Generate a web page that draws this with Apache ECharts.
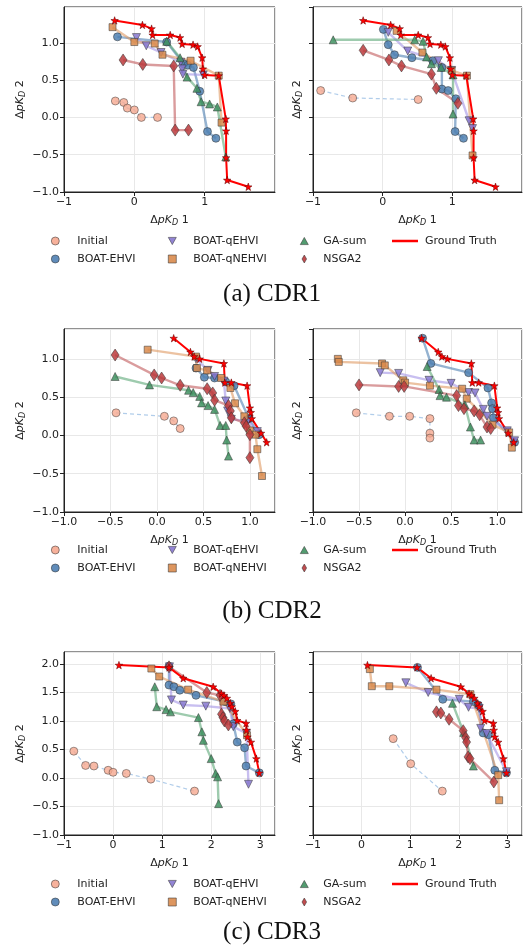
<!DOCTYPE html>
<html>
<head>
<meta charset="utf-8">
<script src="https://cdn.jsdelivr.net/npm/echarts@6/dist/echarts.min.js"></script>
<style>
html, body { margin: 0; padding: 0; background: #fff; }
#chart { width: 524px; height: 946px; }
</style>
</head>
<body>
<div id="chart"></div>
<script>
// methods, in legend / drawing order
const methods = ['Initial', 'BOAT-EHVI', 'BOAT-qEHVI', 'BOAT-qNEHVI', 'GA-sum', 'NSGA2']

// ---- CDR1 ----
const cdr1Truth = [[-0.28,1.30],[0.115,1.24],[0.245,1.19],[0.26,1.105],[0.51,1.105],[0.65,1.07],[0.68,0.985],[0.835,0.975],[0.90,0.95],[0.965,0.80],[0.975,0.65],[1.0,0.57],[1.20,0.56],[1.30,-0.02],[1.305,-0.18],[1.305,-0.54],[1.32,-0.84],[1.62,-0.93]]
const cdr1Left = {
  'Initial': [[-0.27,0.22],[-0.15,0.20],[-0.10,0.125],[0.0,0.10],[0.10,0.0],[0.33,0.0]],
  'BOAT-EHVI': [[-0.24,1.08],[0.46,1.01],[0.70,0.72],[0.76,0.70],[0.84,0.67],[0.93,0.35],[1.04,-0.19],[1.16,-0.28]],
  'BOAT-qEHVI': [[0.03,1.07],[0.17,0.96],[0.38,0.87],[0.66,0.74],[0.68,0.65],[0.69,0.58],[0.98,0.57]],
  'BOAT-qNEHVI': [[-0.31,1.21],[0.0,1.01],[0.29,0.99],[0.40,0.84],[0.80,0.76],[1.20,0.56],[1.24,-0.07]],
  'GA-sum': [[0.46,1.02],[0.65,0.80],[0.75,0.54],[0.89,0.39],[0.95,0.21],[1.07,0.18],[1.18,0.14],[1.30,-0.53]],
  'NSGA2': [[-0.16,0.77],[0.12,0.71],[0.56,0.69],[0.58,-0.17],[0.77,-0.17]]
}
const cdr1Right = {
  'Initial': [[-0.89,0.36],[-0.43,0.26],[0.51,0.24]],
  'BOAT-EHVI': [[0.01,1.18],[0.08,0.975],[0.17,0.84],[0.42,0.80],[0.72,0.76],[0.85,0.67],[0.85,0.38],[0.94,0.36],[1.05,0.25],[1.04,-0.19],[1.16,-0.28]],
  'BOAT-qEHVI': [[0.08,1.14],[0.36,0.89],[0.80,0.76],[0.99,0.63],[1.24,-0.045],[1.29,-0.15]],
  'BOAT-qNEHVI': [[0.2,1.16],[0.57,0.87],[0.99,0.63],[1.21,0.56],[1.29,-0.51]],
  'GA-sum': [[-0.71,1.04],[0.46,1.04],[0.58,1.02],[0.63,0.81],[0.70,0.72],[0.84,0.67],[1.01,0.57],[1.01,0.045]],
  'NSGA2': [[-0.28,0.90],[0.09,0.77],[0.27,0.69],[0.70,0.58],[0.77,0.39],[1.08,0.19]]
}

// ---- CDR2 ----
const cdr2Truth = [[0.18,1.27],[0.36,1.09],[0.40,1.03],[0.46,1.0],[0.72,0.94],[0.73,0.69],[0.80,0.69],[0.97,0.65],[1.0,0.36],[1.01,0.30],[1.02,0.22],[1.12,0.03],[1.18,-0.09]]
const cdr2Left = {
  'Initial': [[-0.44,0.295],[0.08,0.25],[0.18,0.19],[0.25,0.09]],
  'BOAT-EHVI': [[0.42,0.88],[0.51,0.76],[0.62,0.75],[0.74,0.70],[0.83,0.65],[0.99,0.22],[1.10,0.01]],
  'BOAT-qEHVI': [[0.42,1.0],[0.55,0.85],[0.62,0.77],[0.72,0.71],[0.74,0.45],[0.76,0.32],[0.80,0.21],[0.98,0.19],[1.08,0.05]],
  'BOAT-qNEHVI': [[-0.10,1.12],[0.42,1.03],[0.43,0.88],[0.54,0.85],[0.69,0.75],[0.79,0.62],[0.84,0.42],[0.94,0.25],[1.0,0.065],[1.06,0.01],[1.08,-0.18],[1.13,-0.53]],
  'GA-sum': [[-0.45,0.77],[-0.08,0.66],[0.34,0.59],[0.39,0.56],[0.46,0.51],[0.48,0.425],[0.55,0.39],[0.62,0.34],[0.68,0.13],[0.74,0.13],[0.75,-0.06],[0.77,-0.27]],
  'NSGA2': [[-0.45,1.05],[-0.03,0.79],[0.05,0.75],[0.25,0.655],[0.54,0.61],[0.60,0.555],[0.62,0.46],[0.77,0.39],[0.79,0.32],[0.80,0.23],[0.94,0.165],[0.96,0.12],[1.0,0.01],[1.0,-0.29]]
}
const cdr2Right = {
  'Initial': [[-0.53,0.295],[-0.17,0.25],[0.05,0.25],[0.27,0.22],[0.27,0.03],[0.27,-0.035]],
  'BOAT-EHVI': [[0.19,1.27],[0.28,0.94],[0.69,0.82],[0.90,0.62],[0.94,0.425],[0.95,0.35],[0.96,0.23],[1.19,-0.09]],
  'BOAT-qEHVI': [[-0.27,0.82],[-0.07,0.81],[0.26,0.72],[0.50,0.68],[0.69,0.56],[0.76,0.555],[0.85,0.34],[0.89,0.25],[1.11,0.06],[1.19,-0.07]],
  'BOAT-qNEHVI': [[-0.73,1.0],[-0.72,0.96],[-0.25,0.94],[-0.22,0.915],[-0.02,0.72],[0.0,0.69],[0.27,0.65],[0.62,0.61],[0.67,0.48],[0.95,0.14],[1.13,0.04],[1.16,-0.16]],
  'GA-sum': [[0.24,0.90],[0.37,0.60],[0.38,0.52],[0.45,0.50],[0.65,0.40],[0.71,0.11],[0.75,-0.06],[0.82,-0.06]],
  'NSGA2': [[-0.50,0.66],[-0.07,0.64],[-0.01,0.64],[0.56,0.52],[0.58,0.39],[0.64,0.35],[0.75,0.32],[0.81,0.27],[0.89,0.11],[0.93,0.09]]
}

// ---- CDR3 ----
const cdr3Truth = [[0.12,1.98],[1.14,1.94],[1.43,1.75],[2.04,1.60],[2.21,1.48],[2.26,1.45],[2.32,1.40],[2.39,1.31],[2.42,1.25],[2.49,1.17],[2.53,1.01],[2.71,0.96],[2.72,0.84],[2.74,0.72],[2.81,0.63],[2.92,0.34],[2.98,0.09]]
const cdr3Left = {
  'Initial': [[-0.80,0.47],[-0.56,0.22],[-0.39,0.21],[-0.10,0.135],[0.0,0.10],[0.27,0.08],[0.77,-0.02],[1.66,-0.23]],
  'BOAT-EHVI': [[1.14,1.96],[1.14,1.63],[1.24,1.60],[1.36,1.54],[1.69,1.45],[2.28,1.34],[2.40,1.30],[2.45,0.95],[2.53,0.63],[2.68,0.53],[2.71,0.21],[2.98,0.09]],
  'BOAT-qEHVI': [[1.15,1.95],[1.19,1.37],[1.43,1.28],[1.89,1.26],[2.38,1.22],[2.45,0.9],[2.72,0.78],[2.76,-0.11]],
  'BOAT-qNEHVI': [[0.78,1.92],[0.94,1.78],[1.53,1.55],[2.25,1.34],[2.73,0.75]],
  'GA-sum': [[0.85,1.60],[0.89,1.25],[1.08,1.20],[1.17,1.16],[1.74,1.06],[1.81,0.81],[1.84,0.66],[2.0,0.34],[2.09,0.08],[2.13,0.02],[2.15,-0.45]],
  'NSGA2': [[1.14,1.95],[1.91,1.50],[2.18,1.45],[2.21,1.12],[2.24,1.06],[2.27,1.0],[2.35,0.93]]
}
const cdr3Right = {
  'Initial': [[0.65,0.69],[1.01,0.25],[1.66,-0.23]],
  'BOAT-EHVI': [[1.15,1.94],[1.67,1.38],[2.30,1.34],[2.40,1.28],[2.50,0.79],[2.61,0.76],[2.74,0.135],[2.98,0.09]],
  'BOAT-qEHVI': [[0.91,1.67],[1.37,1.50],[2.01,1.38],[2.20,1.24],[2.42,1.22],[2.45,0.87],[2.57,0.78],[2.98,0.11]],
  'BOAT-qNEHVI': [[0.17,1.91],[0.21,1.61],[0.57,1.61],[1.54,1.55],[2.24,1.47],[2.81,0.05],[2.83,-0.39]],
  'GA-sum': [[1.87,1.31],[2.10,0.80],[2.30,0.21]],
  'NSGA2': [[1.54,1.16],[1.63,1.14],[1.80,1.03],[2.09,0.83],[2.14,0.71],[2.16,0.63],[2.19,0.37],[2.23,0.34],[2.72,-0.07]]
}

// axis ranges per row
const rowX = [[-1, 2, 1, 0], [-1, 1.27, 0.5, 1], [-1, 3.3, 1, 0]]
const rowY = [[-1, 1.48], [-1, 1.39], [-1, 2.21]]
const captions = ['(a) CDR1', '(b) CDR2', '(c) CDR3']

const panels = [
  [cdr1Left, cdr1Truth], [cdr1Right, cdr1Truth],
  [cdr2Left, cdr2Truth], [cdr2Right, cdr2Truth],
  [cdr3Left, cdr3Truth], [cdr3Right, cdr3Truth]
]

const STAR = 'path://M0,-10L2.35,-3.24L9.51,-3.09L3.8,1.24L5.88,8.09L0,4.2L-5.88,8.09L-3.8,1.24L-9.51,-3.09L-2.35,-3.24Z'
const TRI_DOWN = 'path://M0,0L10,0L5,9Z'
const THIN_DIAMOND = 'path://M5,0L9,7L5,14L1,7Z'
const look = {
  'Initial':     { color: '#f6a990', line: '#a9c8e8', symbol: 'circle', size: 8, icon: 'circle' },
  'BOAT-EHVI':   { color: '#4f80b2', line: '#4f80b2', symbol: 'circle', size: 8, icon: 'circle' },
  'BOAT-qEHVI':  { color: '#8677cf', line: '#a494e6', symbol: TRI_DOWN, size: 8, icon: TRI_DOWN },
  'BOAT-qNEHVI': { color: '#d98b4e', line: '#e09a62', symbol: 'rect', size: 7, icon: 'path://M0,0H10V10H0Z' },
  'GA-sum':      { color: '#3f9160', line: '#5da878', symbol: 'triangle', size: 8, icon: 'path://M5,0L10,9L0,9Z' },
  'NSGA2':       { color: '#bb3a3c', line: '#c25a5c', symbol: 'diamond', size: [8, 12], icon: THIN_DIAMOND }
}
const GT_COLOR = '#ff0000'
const FONT = 'DejaVu Sans'
const INK = '#222'

const gridTops = [7, 329, 652]
const gridHeights = [185, 183, 183]
const gridLefts = [64, 313]
const gridWidths = [211, 209]

function fmt(dec) {
  return v => {
    const s = Math.abs(v).toFixed(dec)
    return v < -1e-9 ? '\u2212' + s : s
  }
}

const axisName = n => '{t|\u0394}{i|pK}{s|D}{t| ' + n + '}'
const nameStyle = {
  fontFamily: FONT, fontSize: 11, color: INK,
  rich: {
    t: { fontFamily: FONT, fontSize: 11, color: INK },
    i: { fontFamily: FONT, fontSize: 11, color: INK, fontStyle: 'italic' },
    s: { fontFamily: FONT, fontSize: 8, color: INK, fontStyle: 'italic', padding: [6, 0, 0, 0] }
  }
}

const grid = [], xAxis = [], yAxis = [], series = []
panels.forEach((p, i) => {
  const row = Math.floor(i / 2), col = i % 2
  const [xmin, xmax, xint, xdec] = rowX[row]
  const [ymin, ymax] = rowY[row]
  grid.push({
    left: gridLefts[col], top: gridTops[row], width: gridWidths[col], height: gridHeights[row],
    show: true, borderColor: INK, borderWidth: 1, containLabel: false
  })
  xAxis.push({
    gridIndex: i, type: 'value', min: xmin, max: xmax, interval: xint,
    axisLine: { show: true, onZero: false, lineStyle: { color: INK, width: 1 } },
    axisTick: { show: true, length: 4, lineStyle: { color: INK } },
    axisLabel: { fontFamily: FONT, fontSize: 11, color: INK, margin: 5, showMaxLabel: false, formatter: fmt(xdec) },
    splitLine: { show: true, lineStyle: { color: '#e8e8e8', width: 1 } },
    name: axisName(1), nameLocation: 'middle', nameGap: 21, nameTextStyle: nameStyle
  })
  yAxis.push({
    gridIndex: i, type: 'value', min: ymin, max: ymax, interval: 0.5,
    axisLine: { show: true, onZero: false, lineStyle: { color: INK, width: 1 } },
    axisTick: { show: true, length: 4, lineStyle: { color: INK } },
    axisLabel: { show: col === 0, fontFamily: FONT, fontSize: 11, color: INK, margin: 5, showMaxLabel: false, formatter: fmt(1) },
    splitLine: { show: true, lineStyle: { color: '#e8e8e8', width: 1 } },
    name: axisName(2), nameLocation: 'middle', nameGap: col === 0 ? 37 : 9, nameTextStyle: nameStyle
  })

  const [data, truth] = p
  methods.forEach(m => {
    const s = look[m]
    const initial = m === 'Initial'
    series.push({
      type: 'line', name: m, xAxisIndex: i, yAxisIndex: i, data: data[m],
      symbol: s.symbol, symbolSize: s.size, showSymbol: true,
      itemStyle: { color: s.color, borderColor: '#333', borderWidth: 0.6, opacity: initial ? 0.8 : 0.85 },
      lineStyle: { color: s.line, width: initial ? 1.2 : 2.4, type: initial ? [4, 3] : 'solid', opacity: initial ? 0.9 : 0.6 },
      silent: true, animation: false
    })
  })
  series.push({
    type: 'line', name: 'Ground Truth', xAxisIndex: i, yAxisIndex: i, data: truth,
    symbol: STAR, symbolSize: 7.5, showSymbol: true, z: 3,
    itemStyle: { color: GT_COLOR, borderColor: '#5a0000', borderWidth: 0.5 },
    lineStyle: { color: GT_COLOR, width: 2 },
    silent: true, animation: false
  })
})

// legends: one small vertical legend per column, under each row of plots
const legendCols = [['Initial', 'BOAT-EHVI'], ['BOAT-qEHVI', 'BOAT-qNEHVI'], ['GA-sum', 'NSGA2']]
const legendLefts = [46, 163, 295]
const legendPads = [13, 12, 10]
const legendTops = [229, 538, 872]
const legend = []
legendTops.forEach(top => {
  legendCols.forEach((names, c) => {
    legend.push({
      orient: 'vertical', left: legendLefts[c], top, itemWidth: 8, itemHeight: 8, itemGap: 4,
      selectedMode: false,
      textStyle: { fontFamily: FONT, fontSize: 11, color: INK, lineHeight: 14, padding: [0, 0, 0, legendPads[c]] },
      data: names.map(n => ({
        name: n, icon: look[n].icon,
        itemStyle: { color: look[n].color, borderColor: '#333', borderWidth: 0.6, opacity: 0.9 }
      }))
    })
  })
  legend.push({
    orient: 'vertical', left: 387, top, itemWidth: 26, itemHeight: 2.5, itemGap: 4,
    selectedMode: false,
    textStyle: { fontFamily: FONT, fontSize: 11, color: INK, lineHeight: 14, padding: [0, 0, 0, 2] },
    data: [{ name: 'Ground Truth', icon: 'rect', itemStyle: { color: GT_COLOR, borderWidth: 0 } }]
  })
})

const captionY = [294, 611, 932]
const graphic = captions.map((t, r) => ({
  type: 'text', x: 272, y: captionY[r],
  style: { text: t, fontFamily: 'Liberation Serif', fontSize: 25, fill: '#111', align: 'center', verticalAlign: 'middle' }
}))

const chart = echarts.init(document.getElementById('chart'))
chart.setOption({
  animation: false,
  grid, xAxis, yAxis, series, legend, graphic
})
</script>
</body>
</html>
